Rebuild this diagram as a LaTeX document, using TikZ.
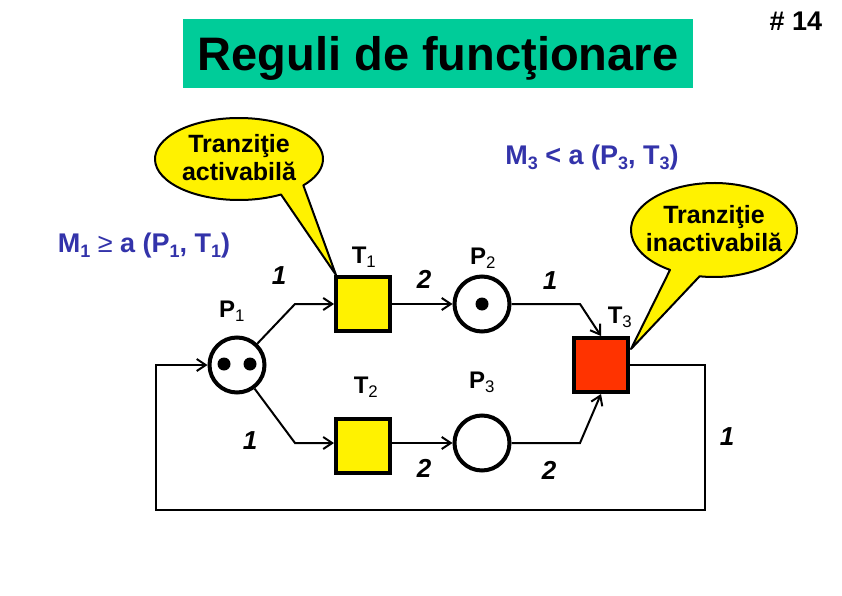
\documentclass[tikz,border=0pt]{standalone}
\usepackage{fontspec}
\setmainfont{Liberation Sans}
\usetikzlibrary{arrows.meta,calc}
\definecolor{titlegreen}{RGB}{0,204,153}
\definecolor{firered}{RGB}{255,51,0}
\definecolor{markblue}{RGB}{51,51,170}
\newcommand\lo[1]{\textsubscript{\mdseries #1}}
\newcommand\dn[1]{\raisebox{-0.35ex}{\fontsize{18}{18}\selectfont #1}}
\tikzset{
  place/.style={circle, draw, line width=4pt, minimum size=55pt, inner sep=0pt},
  trans/.style={rectangle, draw, line width=4pt, minimum size=54pt, inner sep=0pt},
  flow/.style={line width=2pt, -{Straight Barb[length=9pt,width=12pt,line width=2pt]}},
  bubble/.style={fill=yellow, draw=black, line width=2pt, line join=round},
  bubtext/.style={align=center, font=\bfseries\fontsize{25}{28}\selectfont},
  lab/.style={font=\bfseries\fontsize{24}{28}\selectfont},
  weight/.style={font=\bfseries\itshape\fontsize{26}{30}\selectfont},
  cond/.style={text=markblue, font=\bfseries\fontsize{27}{30}\selectfont}
}
\begin{document}
\begin{tikzpicture}[x=1pt,y=-1pt]
\fill[white] (0,0) rectangle (842,596);
\useasboundingbox (0,0) rectangle (842,596);
\node[fill=titlegreen, minimum width=510pt, minimum height=69pt, inner sep=0pt, text depth=0pt,
  font=\bfseries\fontsize{47}{50}\selectfont] (title) at (438,53.5) {Reguli de funcţionare};
\node[font=\bfseries\fontsize{27}{30}\selectfont] (nr) at (796,21) {\# 14};
\path[bubble] (336,275) -- ($(239,159)+(60:84 and 41)$)
  arc[start angle=60, end angle=400, x radius=84, y radius=41] -- cycle;
\node[bubtext] (act) at (239,158) {Tranziţie\\activabilă};
\path[bubble] (631,349) -- ($(714,230)+(122:83 and 47)$)
  arc[start angle=122, end angle=460, x radius=83, y radius=47] -- cycle;
\node[bubtext] (inact) at (714,229) {Tranziţie\\inactivabilă};
\node[cond] (m1) at (144,246) {M\dn{1} {\mdseries ≥} a (P\dn{1}, T\dn{1})};
\node[cond] (m3) at (592,158) {M\dn{3} < a (P\dn{3}, T\dn{3})};
\node[place] (p1) at (237,365) {};
\node[place] (p2) at (482,304) {};
\node[place] (p3) at (482,443) {};
\node[trans, fill=yellow] (t1) at (363,304) {};
\node[trans, fill=yellow] (t2) at (363,446) {};
\node[trans, fill=firered] (t3) at (601,365) {};
\fill (p1) ++(-13,-1) circle (6.5) ++(26,0) circle (6.5);
\fill (p2) circle (6.5);
\node[lab] (lp1) at (232,311) {P\lo{1}};
\node[lab] (lt1) at (364,257) {T\lo{1}};
\node[lab] (lp2) at (483,258) {P\lo{2}};
\node[lab] (lt2) at (366,387) {T\lo{2}};
\node[lab] (lp3) at (482,382) {P\lo{3}};
\node[lab] (lt3) at (620,317) {T\lo{3}};
\coordinate (b1) at (295,304);
\coordinate (b2) at (295,443);
\coordinate (b3) at (580,304);
\coordinate (b4) at (580,443);
\coordinate (r1) at (705,365);
\coordinate (l1) at (156,510);
\draw[flow] (p1) -- (b1) -- (t1);
\draw[flow] (p1) -- (b2) -- (t2.west |- b2);
\draw[flow] (t1) -- (p2);
\draw[flow] (t2.east |- b2) -- (p3);
\draw[flow] (p2) -- (b3) -- (t3.north);
\draw[flow] (p3) -- (b4) -- (t3.south);
\draw[flow] (t3) -- (r1) |- (l1) |- (p1);
\node[weight] (w1) at (279,276) {1};
\node[weight] (w2) at (424,279) {2};
\node[weight] (w3) at (550,281) {1};
\node[weight] (w4) at (250,441) {1};
\node[weight] (w5) at (424,468) {2};
\node[weight] (w6) at (549,470) {2};
\node[weight] (w7) at (727,437) {1};
\end{tikzpicture}
\end{document}
